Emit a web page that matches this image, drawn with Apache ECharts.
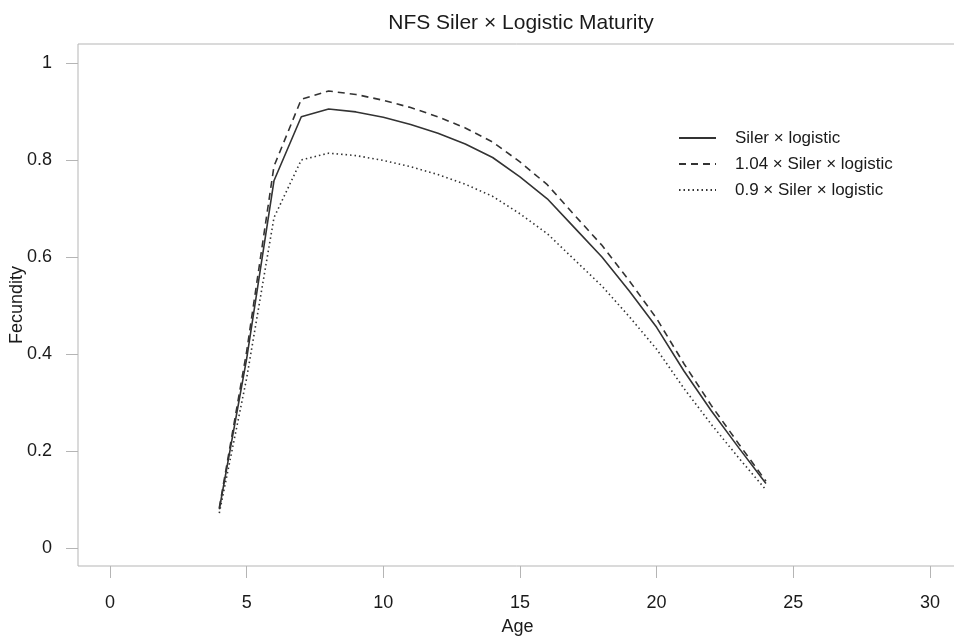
<!DOCTYPE html>
<html>
<head>
<meta charset="utf-8">
<title>NFS Siler x Logistic Maturity</title>
<script src="https://cdn.jsdelivr.net/npm/echarts@6/dist/echarts.min.js"></script>
<style>
  html, body { margin: 0; padding: 0; background: #fff; }
  #main { width: 954px; height: 641px; }
</style>
</head>
<body>
<div id="main"></div>
<script>
// ages 4..24
var ages = [4, 5, 6, 7, 8, 9, 10, 11, 12, 13, 14, 15, 16, 17, 18, 19, 20, 21, 22, 23, 24];
// Siler x logistic
var base = [0.080, 0.390, 0.757, 0.889, 0.905, 0.899, 0.888, 0.873, 0.855, 0.833, 0.805,
            0.765, 0.720, 0.660, 0.600, 0.530, 0.455, 0.365, 0.283, 0.207, 0.133];
// 1.04 x Siler x logistic
var high = [0.083, 0.405, 0.787, 0.925, 0.942, 0.935, 0.923, 0.908, 0.889, 0.866, 0.837,
            0.796, 0.749, 0.686, 0.624, 0.551, 0.473, 0.380, 0.294, 0.215, 0.138];
// 0.9 x Siler x logistic
var low  = [0.072, 0.350, 0.681, 0.800, 0.814, 0.809, 0.799, 0.786, 0.770, 0.750, 0.725,
            0.689, 0.648, 0.594, 0.540, 0.477, 0.410, 0.329, 0.255, 0.186, 0.120];

var xTicks = [0, 5, 10, 15, 20, 25, 30];
var yTicks = [0, 0.2, 0.4, 0.6, 0.8, 1];
var names = ['Siler \u00d7 logistic', '1.04 \u00d7 Siler \u00d7 logistic', '0.9 \u00d7 Siler \u00d7 logistic'];

function pairs(ys) {
  var out = [];
  for (var i = 0; i < ages.length; i++) out.push([ages[i], ys[i]]);
  return out;
}

var font = "'Liberation Sans', Arial, sans-serif";
var lineColor = '#333';
var chart = echarts.init(document.getElementById('main'), null, { renderer: 'canvas' });

var option = {
  animation: false,
  backgroundColor: '#fff',
  textStyle: { fontFamily: font, color: '#1a1a1a' },
  title: {
    text: 'NFS Siler \u00d7 Logistic Maturity',
    left: 516, top: 8, textAlign: 'center',
    textStyle: { fontFamily: font, fontSize: 21, fontWeight: 'normal', color: '#1a1a1a' }
  },
  grid: {
    left: 78, top: 44, right: -3, bottom: 75,
    containLabel: false, outerBoundsMode: 'none',
    show: true, borderColor: '#b5b5b5', borderWidth: 1, backgroundColor: 'transparent'
  },
  legend: {
    orient: 'vertical', left: 673, top: 123,
    itemWidth: 37, itemHeight: 14, itemGap: 6,
    data: names,
    itemStyle: { opacity: 0 },
    textStyle: { fontFamily: font, fontSize: 17, color: '#1a1a1a', lineHeight: 20, padding: [0, 0, 0, 14] }
  },
  xAxis: {
    type: 'value', min: -1.17, max: 30.99,
    name: 'Age', nameLocation: 'middle', nameGap: 52, nameMoveOverlap: false,
    nameTextStyle: { fontFamily: font, fontSize: 18, color: '#1a1a1a' },
    axisLine: { show: false, onZero: false },
    axisTick: { show: true, length: 12, customValues: xTicks, lineStyle: { color: '#b5b5b5' } },
    axisLabel: { customValues: xTicks, margin: 28, fontSize: 18, fontFamily: font, color: '#1a1a1a' },
    splitLine: { show: false }
  },
  yAxis: {
    type: 'value', min: -0.037, max: 1.039,
    name: 'Fecundity', nameLocation: 'middle', nameGap: 52, nameRotate: 90, nameMoveOverlap: false,
    nameTextStyle: { fontFamily: font, fontSize: 18, color: '#1a1a1a', padding: [0, 0, 0, 0] },
    axisLine: { show: false, onZero: false },
    axisTick: { show: true, length: 12, customValues: yTicks, lineStyle: { color: '#b5b5b5' } },
    axisLabel: { customValues: yTicks, margin: 26, fontSize: 18, fontFamily: font, color: '#1a1a1a' },
    splitLine: { show: false }
  },
  series: [
    {
      name: names[0], type: 'line', data: pairs(base), symbol: 'none',
      lineStyle: { color: lineColor, width: 1.6, type: 'solid' },
      itemStyle: { color: lineColor }
    },
    {
      name: names[1], type: 'line', data: pairs(high), symbol: 'none',
      lineStyle: { color: lineColor, width: 1.6, type: [7, 5] },
      itemStyle: { color: lineColor }
    },
    {
      name: names[2], type: 'line', data: pairs(low), symbol: 'none',
      lineStyle: { color: lineColor, width: 1.6, type: [1.5, 3] },
      itemStyle: { color: lineColor }
    }
  ]
};

chart.setOption(option);
</script>
</body>
</html>
